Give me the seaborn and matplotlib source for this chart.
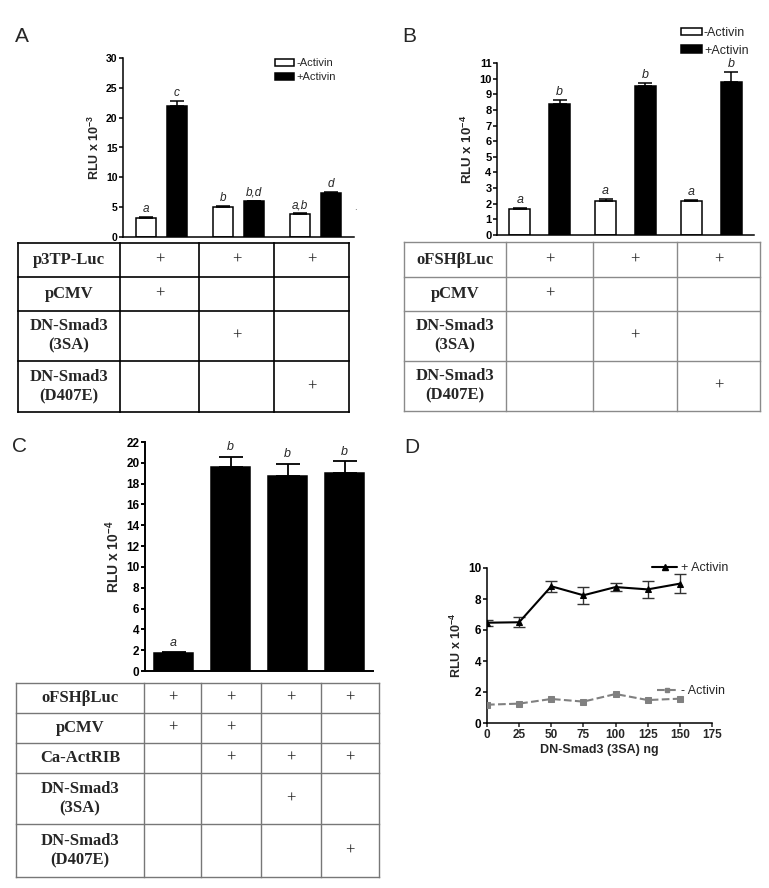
import numpy as np
import pandas as pd
import matplotlib
matplotlib.use("Agg")
import matplotlib.pyplot as plt
import seaborn as sns
from matplotlib.patches import Patch
from matplotlib.lines import Line2D

# ---------------- data ----------------
constructs_AB = ["pCMV", "DN-Smad3 (3SA)", "DN-Smad3 (D407E)"]
treatments = ["-Activin", "+Activin"]

A_minus = [3.2, 5.1, 3.8]
A_minus_err = [0.1, 0.15, 0.15]
A_plus = [21.9, 6.0, 7.35]
A_plus_err = [0.85, 0.1, 0.15]
A_let_minus = ["a", "b", "a,b"]
A_let_plus = ["c", "b,d", "d"]

B_minus = [1.66, 2.17, 2.15]
B_minus_err = [0.09, 0.13, 0.09]
B_plus = [8.4, 9.5, 9.79]
B_plus_err = [0.26, 0.2, 0.66]
B_let_minus = ["a", "a", "a"]
B_let_plus = ["b", "b", "b"]

C_groups = ["pCMV", "Ca-ActRIB", "Ca-ActRIB+3SA", "Ca-ActRIB+D407E"]
C_vals = [1.73, 19.63, 18.7, 19.0]
C_err = [0.05, 0.97, 1.2, 1.14]
C_letters = ["a", "b", "b", "b"]

D_dose = [0, 25, 50, 75, 100, 125, 150]
D_plus = [6.47, 6.5, 8.82, 8.24, 8.77, 8.62, 8.99]
D_plus_err = [0.2, 0.32, 0.35, 0.56, 0.26, 0.53, 0.61]
D_minus = [1.18, 1.25, 1.55, 1.38, 1.87, 1.48, 1.57]

A_rows = ["p3TP-Luc", "pCMV", "DN-Smad3\n(3SA)", "DN-Smad3\n(D407E)"]
A_marks = [[1, 1, 1], [1, 0, 0], [0, 1, 0], [0, 0, 1]]
B_rows = ["oFSHβLuc", "pCMV", "DN-Smad3\n(3SA)", "DN-Smad3\n(D407E)"]
B_marks = [[1, 1, 1], [1, 0, 0], [0, 1, 0], [0, 0, 1]]
C_rows = ["oFSHβLuc", "pCMV", "Ca-ActRIB", "DN-Smad3\n(3SA)", "DN-Smad3\n(D407E)"]
C_marks = [[1, 1, 1, 1], [1, 1, 0, 0], [0, 1, 1, 1], [0, 0, 1, 0], [0, 0, 0, 1]]

# ---------------- style ----------------
sns.set_style("ticks")
plt.rcParams["font.family"] = ["Liberation Sans", "DejaVu Sans"]
plt.rcParams["mathtext.fontset"] = "custom"
plt.rcParams["mathtext.rm"] = "Liberation Sans:bold"
plt.rcParams["mathtext.it"] = "Liberation Sans:bold"
plt.rcParams["mathtext.default"] = "rm"

W, H = 769, 888
fig = plt.figure(figsize=(W / 100, H / 100), dpi=100)


def px_axes(l, t, r, b):
    return fig.add_axes([l / W, 1 - b / H, (r - l) / W, (b - t) / H])


def style_axes(ax, tick_fs, lw=1.1):
    sns.despine(ax=ax)
    for s in ["left", "bottom"]:
        ax.spines[s].set_linewidth(lw)
        ax.spines[s].set_color("black")
    ax.tick_params(axis="y", length=3, width=lw, labelsize=tick_fs, pad=1, colors="black")
    for lab in ax.get_yticklabels():
        lab.set_fontweight("bold")


def grouped_bars(ax, minus, minus_err, plus, plus_err, let_minus, let_plus,
                 ymax, ystep, gap, capsize, letter_fs, tick_fs, ylabel, ylabel_fs, width=0.8):
    df = pd.DataFrame({
        "construct": constructs_AB * 2,
        "treatment": [treatments[0]] * 3 + [treatments[1]] * 3,
        "RLU": minus + plus,
    })
    sns.barplot(data=df, x="construct", y="RLU", hue="treatment", hue_order=treatments,
                palette=["white", "black"], saturation=1, edgecolor="black", linewidth=1.1,
                errorbar=None, gap=gap, width=width, legend=False, ax=ax, zorder=2)
    for cont, vals, errs, lets in zip(ax.containers, [minus, plus], [minus_err, plus_err],
                                      [let_minus, let_plus]):
        xs = [b.get_x() + b.get_width() / 2 for b in cont]
        ax.errorbar(xs, vals, yerr=[[0] * len(errs), errs], fmt="none", ecolor="black",
                    elinewidth=1.1, capsize=capsize, capthick=1.1, zorder=3)
        for x, v, e, l in zip(xs, vals, errs, lets):
            ax.text(x, v + e + ymax * 0.012, l, ha="center", va="bottom",
                    style="italic", fontsize=letter_fs)
    ax.set_ylim(0, ymax)
    ax.set_yticks(np.arange(0, ymax + 0.01, ystep))
    ax.set_xlim(-0.5, 2.5)
    ax.tick_params(axis="x", bottom=False, labelbottom=False)
    ax.set_xlabel("")
    ax.set_ylabel(ylabel, fontsize=ylabel_fs, fontweight="bold", labelpad=3)
    style_axes(ax, tick_fs)


def draw_table(cols, rows, labels, marks, color, lw, fs, plus_fs):
    ax = px_axes(cols[0] - 2, rows[0] - 2, cols[-1] + 2, rows[-1] + 2)
    ax.set_xlim(cols[0] - 2, cols[-1] + 2)
    ax.set_ylim(rows[-1] + 2, rows[0] - 2)
    ax.axis("off")
    for x in cols:
        ax.plot([x, x], [rows[0], rows[-1]], color=color, lw=lw, solid_capstyle="projecting")
    for y in rows:
        ax.plot([cols[0], cols[-1]], [y, y], color=color, lw=lw, solid_capstyle="projecting")
    for i, lab in enumerate(labels):
        yc = (rows[i] + rows[i + 1]) / 2
        ax.text((cols[0] + cols[1]) / 2, yc, lab, ha="center", va="center",
                family=["Liberation Serif", "DejaVu Serif"], fontweight="bold",
                fontsize=fs, linespacing=1.3)
        for j, m in enumerate(marks[i]):
            if m:
                ax.text((cols[j + 1] + cols[j + 2]) / 2, yc, "+", ha="center", va="center",
                        family=["Liberation Serif", "DejaVu Serif"], fontsize=plus_fs)


# ---------------- Panel A ----------------
axA = px_axes(123, 58, 354, 237)
grouped_bars(axA, A_minus, A_minus_err, A_plus, A_plus_err, A_let_minus, A_let_plus,
             30, 5, 0.35, 5, 8.5, 7.5, "RLU x 10$^{-3}$", 9)
axA.legend(handles=[Patch(facecolor="white", edgecolor="black", lw=1.1),
                    Patch(facecolor="black", edgecolor="black", lw=1.1)],
           labels=treatments, loc="upper left", bbox_to_anchor=(0.66, 1.0),
           frameon=False, fontsize=8, handlelength=1.7, handleheight=0.6,
           handletextpad=0.15, labelspacing=0.4, borderpad=0, borderaxespad=0)
draw_table([18, 120, 199, 274, 349], [243, 277, 311, 361, 412], A_rows, A_marks,
           "black", 1.2, 12, 12)
fig.text(355 / W, 1 - 207 / H, ".", fontsize=7, color="#555555", ha="center", va="center")

# ---------------- Panel B ----------------
axB = px_axes(497, 63, 754, 235)
grouped_bars(axB, B_minus, B_minus_err, B_plus, B_plus_err, B_let_minus, B_let_plus,
             11, 1, 0.47, 5, 9, 8, "RLU x 10$^{-4}$", 9.5, width=0.93)
axB.legend(handles=[Patch(facecolor="white", edgecolor="black", lw=1.1),
                    Patch(facecolor="black", edgecolor="black", lw=1.1)],
           labels=treatments, loc="upper left", bbox_to_anchor=(0.715, 1.21),
           frameon=False, fontsize=9, handlelength=1.7, handleheight=0.6,
           handletextpad=0.15, labelspacing=0.45, borderpad=0, borderaxespad=0)
draw_table([404, 506, 593, 677, 760], [242, 277, 311, 361, 411], B_rows, B_marks,
           "#8a8a8a", 1.0, 12, 12)

# ---------------- Panel C ----------------
axC = px_axes(145, 442, 373, 671)
dfC = pd.DataFrame({"group": C_groups, "RLU": C_vals})
sns.barplot(data=dfC, x="group", y="RLU", color="black", saturation=1, edgecolor="black",
            linewidth=1.1, errorbar=None, width=0.7, ax=axC, zorder=2)
xsC = [b.get_x() + b.get_width() / 2 for b in axC.containers[0]]
axC.errorbar(xsC, C_vals, yerr=[[0] * 4, C_err], fmt="none", ecolor="black",
             elinewidth=1.3, capsize=8.5, capthick=1.3, zorder=3)
for x, v, e, l in zip(xsC, C_vals, C_err, C_letters):
    axC.text(x, v + e + 0.35, l, ha="center", va="bottom", style="italic", fontsize=9)
axC.set_ylim(0, 22)
axC.set_yticks(np.arange(0, 23, 2))
axC.set_xlim(-0.5, 3.5)
axC.tick_params(axis="x", bottom=False, labelbottom=False)
axC.set_xlabel("")
axC.set_ylabel("RLU x 10$^{-4}$", fontsize=10, fontweight="bold", labelpad=3)
style_axes(axC, 8.5, lw=1.4)
draw_table([16, 144, 201, 261, 321, 379], [683, 713, 743, 773, 824, 877], C_rows, C_marks,
           "#777777", 1.0, 12, 12)

# ---------------- Panel D ----------------
axD = px_axes(487, 568, 712, 723)
sns.lineplot(x=D_dose, y=D_plus, color="black", marker="^", markersize=4.5,
             markeredgecolor="black", linewidth=1.5, ax=axD, zorder=3)
axD.errorbar(D_dose, D_plus, yerr=D_plus_err, fmt="none", ecolor="#333333",
             elinewidth=1.0, capsize=4, capthick=1.0, zorder=2)
sns.lineplot(x=D_dose, y=D_minus, color="#808080", marker="s", markersize=4,
             markeredgecolor="#808080", linewidth=1.5, linestyle="--", ax=axD, zorder=3)
axD.set_xlim(0, 175)
axD.set_ylim(0, 10)
axD.set_xticks(np.arange(0, 176, 25))
axD.set_yticks(np.arange(0, 11, 2))
axD.set_xlabel("DN-Smad3 (3SA) ng", fontsize=9, fontweight="bold", labelpad=2)
axD.set_ylabel("RLU x 10$^{-4}$", fontsize=9, fontweight="bold", labelpad=3)
style_axes(axD, 8.5, lw=1.1)
axD.tick_params(axis="x", length=3, width=1.1, labelsize=8.5, pad=1.5)
for lab in axD.get_xticklabels():
    lab.set_fontweight("bold")
h_plus = Line2D([], [], color="black", marker="^", markersize=4, lw=1.5)
h_minus = Line2D([], [], color="#808080", marker="s", markersize=3.5, lw=1.5, ls="--")
legD1 = axD.legend(handles=[h_plus], labels=["+ Activin"], loc="center left",
                   bbox_to_anchor=(0.735, 1.0), frameon=False, fontsize=9,
                   handlelength=2.0, handletextpad=0.3, borderpad=0, borderaxespad=0)
axD.add_artist(legD1)
axD.legend(handles=[h_minus], labels=["- Activin"], loc="center left",
           bbox_to_anchor=(0.755, 0.205), frameon=False, fontsize=9,
           handlelength=1.6, handletextpad=0.3, borderpad=0, borderaxespad=0)

# ---------------- panel letters ----------------
for lab, x, y in [("A", 15, 36), ("B", 402, 36), ("C", 12, 446), ("D", 404, 447)]:
    fig.text(x / W, 1 - y / H, lab, fontsize=15, ha="left", va="center")

fig.savefig("out.png", dpi=100)
